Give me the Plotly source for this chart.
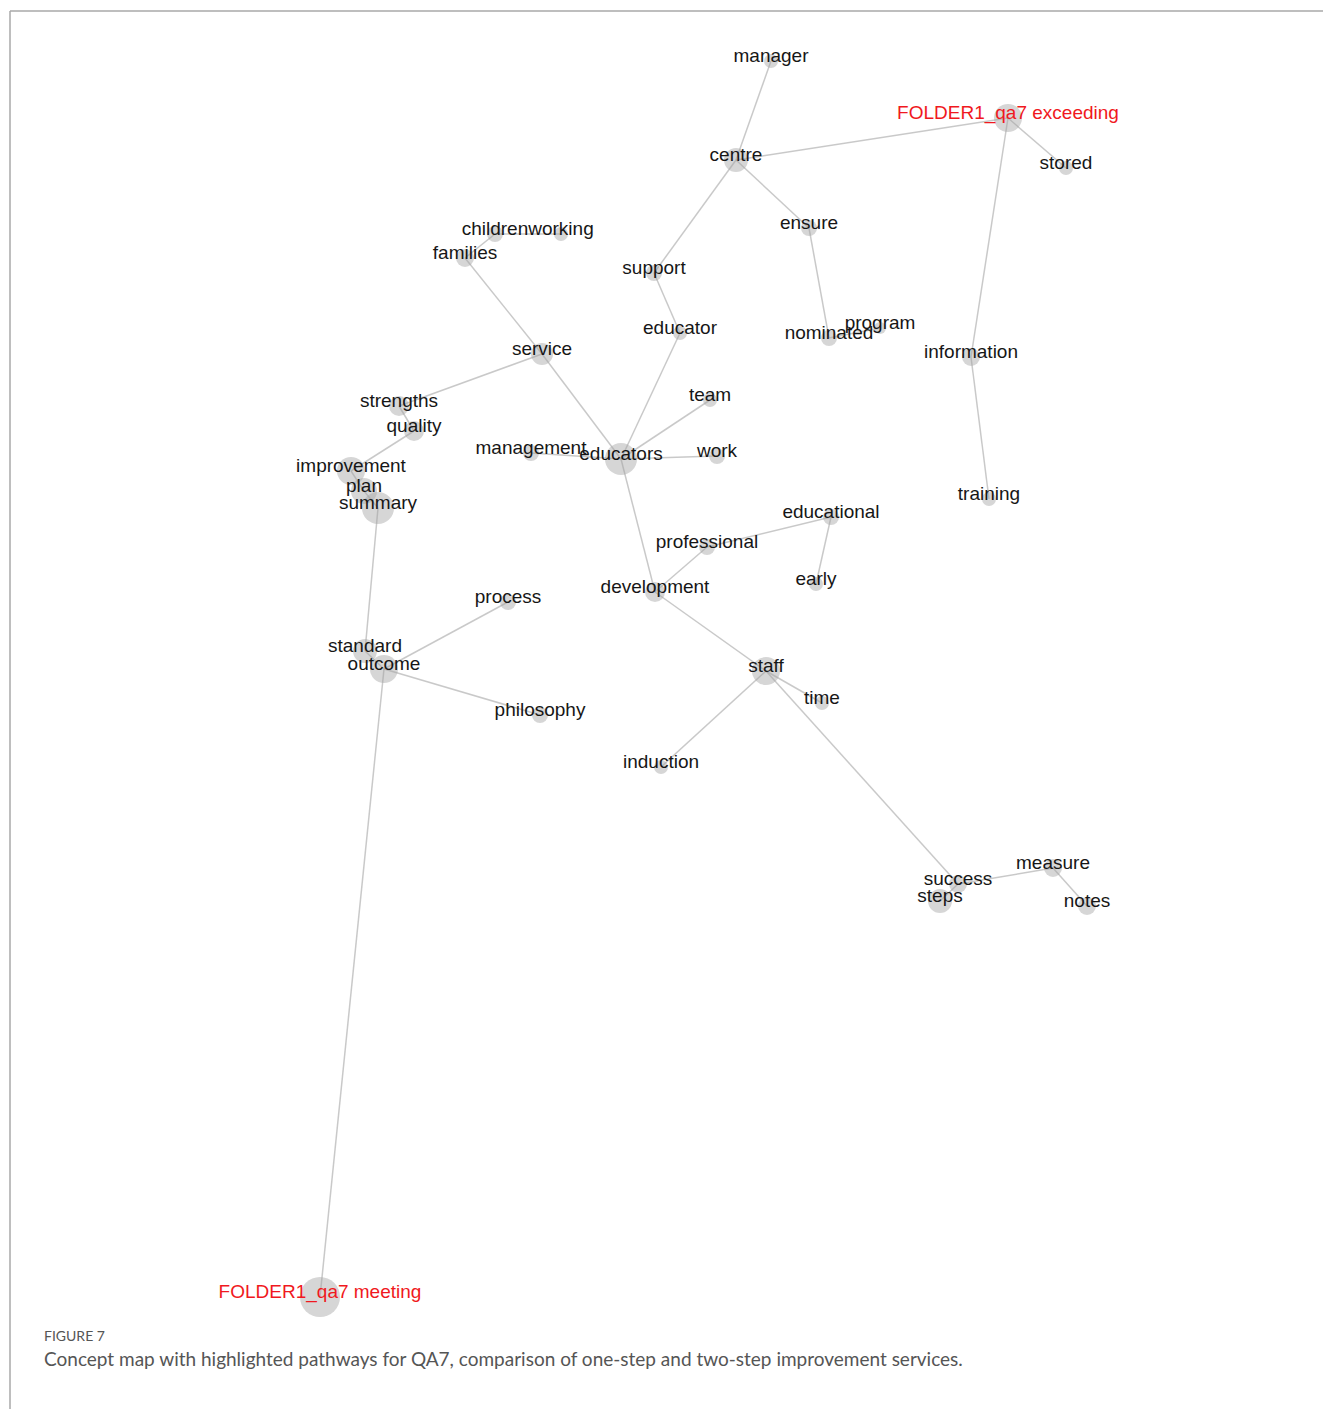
import plotly.graph_objects as go

# ---- data ----
node_names = [
    "manager", "FOLDER1_qa7 exceeding", "centre", "stored", "ensure",
    "children", "working", "families", "support", "educator", "nominated",
    "program", "information", "service", "team", "strengths", "quality",
    "management", "educators", "work", "improvement", "plan", "summary",
    "training", "educational", "professional", "early", "development",
    "process", "standard", "outcome", "staff", "time", "philosophy",
    "induction", "measure", "success", "steps", "notes", "FOLDER1_qa7 meeting",
]
node_x = [
    771, 1008, 736, 1066, 809,
    495, 561, 465, 654, 680, 829,
    880, 971, 542, 710, 399, 414,
    531, 621, 717, 351, 364, 378,
    989, 831, 707, 816, 655,
    508, 365, 384, 766, 822, 540,
    661, 1053, 958, 940, 1087, 320,
]
node_y = [
    61, 118, 160, 168, 228,
    234, 234, 258, 273, 333, 338,
    328, 357, 354, 400, 406, 431,
    453, 459, 456, 471, 491, 508,
    499, 517, 547, 584, 592,
    602, 651, 669, 671, 703, 715,
    767, 868, 884, 901, 906, 1297,
]
node_size = [
    14, 28, 24, 14, 16,
    16, 14, 18, 16, 14, 16,
    12, 18, 22, 14, 20, 20,
    16, 32, 16, 28, 26, 32,
    14, 16, 16, 14, 20,
    16, 24, 28, 28, 14, 16,
    14, 18, 18, 24, 18, 40,
]
highlight = {"FOLDER1_qa7 exceeding", "FOLDER1_qa7 meeting"}

edges = [
    ("manager", "centre"),
    ("centre", "FOLDER1_qa7 exceeding"),
    ("FOLDER1_qa7 exceeding", "stored"),
    ("FOLDER1_qa7 exceeding", "information"),
    ("information", "training"),
    ("centre", "ensure"),
    ("ensure", "nominated"),
    ("nominated", "program"),
    ("centre", "support"),
    ("support", "educator"),
    ("educator", "educators"),
    ("families", "children"),
    ("children", "working"),
    ("families", "service"),
    ("service", "educators"),
    ("service", "strengths"),
    ("strengths", "quality"),
    ("quality", "improvement"),
    ("improvement", "plan"),
    ("plan", "summary"),
    ("summary", "standard"),
    ("standard", "outcome"),
    ("outcome", "process"),
    ("outcome", "philosophy"),
    ("outcome", "FOLDER1_qa7 meeting"),
    ("educators", "management"),
    ("educators", "team"),
    ("educators", "work"),
    ("educators", "development"),
    ("development", "professional"),
    ("professional", "educational"),
    ("educational", "early"),
    ("development", "staff"),
    ("staff", "time"),
    ("staff", "induction"),
    ("staff", "success"),
    ("success", "steps"),
    ("success", "measure"),
    ("measure", "notes"),
]

caption_label = "FIGURE 7"
caption_text = ("Concept map with highlighted pathways for QA7, comparison of "
                "one-step and two-step improvement services.")

# ---- build ----
W, H = 1323, 1409
idx = {n: i for i, n in enumerate(node_names)}
ex, ey = [], []
for a, b in edges:
    ex += [node_x[idx[a]], node_x[idx[b]], None]
    ey += [node_y[idx[a]], node_y[idx[b]], None]

LABEL_OFFSET = 4
text_colors = ["#f01820" if n in highlight else "#161616" for n in node_names]

fig = go.Figure()
fig.add_trace(go.Scatter(
    x=ex, y=ey, mode="lines",
    line=dict(color="rgba(165,165,165,0.6)", width=1.5),
    hoverinfo="skip",
))
fig.add_trace(go.Scatter(
    x=node_x, y=node_y, mode="markers",
    marker=dict(size=node_size, color="rgba(165,165,165,0.65)", line=dict(width=0)),
    hoverinfo="skip",
))
fig.add_trace(go.Scatter(
    x=node_x, y=[v - LABEL_OFFSET for v in node_y], mode="text",
    text=node_names, textposition="middle center",
    textfont=dict(family="Liberation Sans, Arial, sans-serif", size=19, color=text_colors),
    hoverinfo="skip",
))

fig.update_layout(
    width=W, height=H,
    margin=dict(l=0, r=0, t=0, b=0),
    paper_bgcolor="white", plot_bgcolor="white",
    showlegend=False,
    xaxis=dict(range=[0, W], visible=False, fixedrange=True),
    yaxis=dict(range=[H, 0], visible=False, fixedrange=True),
    shapes=[
        dict(type="line", xref="paper", yref="paper", x0=10 / W, x1=1, y0=1 - 11 / H, y1=1 - 11 / H,
             line=dict(color="#a8a8a8", width=1.5)),
        dict(type="line", xref="paper", yref="paper", x0=10 / W, x1=10 / W, y0=0, y1=1 - 11 / H,
             line=dict(color="#a8a8a8", width=1.5)),
    ],
    annotations=[
        dict(text=caption_label, xref="paper", yref="paper", x=42 / W, y=1 - 1335 / H,
             xanchor="left", yanchor="middle", showarrow=False,
             font=dict(family="Lato, sans-serif", size=14, color="#555555")),
        dict(text=caption_text, xref="paper", yref="paper", x=42 / W, y=1 - 1358 / H,
             xanchor="left", yanchor="middle", showarrow=False,
             font=dict(family="Lato, sans-serif", size=19, color="#555555")),
    ],
)

fig.write_html(
    "out.html",
    config={"displayModeBar": False},
    post_script="document.body.style.margin='0';document.body.style.overflow='hidden';",
)
